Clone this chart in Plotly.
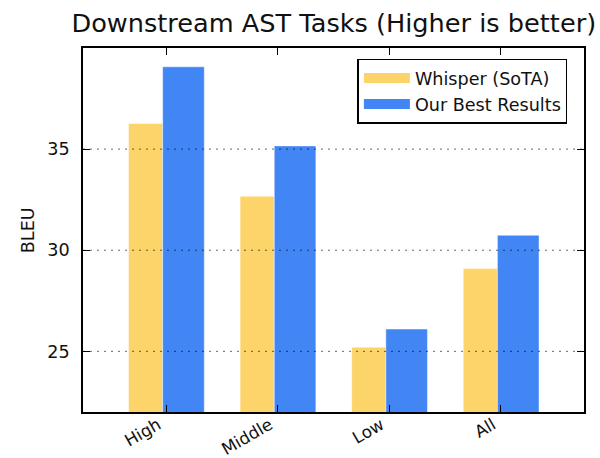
import plotly.graph_objects as go

categories = ["High", "Middle", "Low", "All"]
whisper = [36.27, 32.67, 25.2, 29.09]
ours = [39.07, 35.16, 26.1, 30.74]
series_names = ["Whisper (SoTA)", "Our Best Results"]
y_ticks = [25, 30, 35]

YELLOW = "#FCD469"
BLUE = "#4285F4"
FONT = "DejaVu Sans"

fig = go.Figure()
fig.add_trace(go.Bar(
    x=categories, y=whisper, name=series_names[0], showlegend=False,
    offset=-0.337, width=0.306,
    marker=dict(color=YELLOW, line=dict(color="rgba(255,255,255,0.45)", width=1)),
))
fig.add_trace(go.Bar(
    x=categories, y=ours, name=series_names[1], showlegend=False,
    offset=-0.031, width=0.373,
    marker=dict(color=BLUE, line=dict(color="rgba(255,255,255,0.45)", width=1)),
))
# legend entries (patch-like swatches)
for nm, col in zip(series_names, [YELLOW, BLUE]):
    fig.add_trace(go.Scatter(
        x=[None], y=[None], mode="lines", name=nm,
        line=dict(color=col, width=12),
    ))

# dotted grid drawn over the bars (matplotlib classic style)
for v in y_ticks:
    fig.add_shape(type="line", xref="paper", x0=0, x1=1, yref="y", y0=v, y1=v,
                  line=dict(color="rgba(0,0,0,0.6)", width=1, dash="2px,5px"),
                  layer="above")

fig.update_layout(
    width=600, height=458,
    margin=dict(l=83, r=16, t=48, b=46, autoexpand=False),
    paper_bgcolor="white", plot_bgcolor="white",
    barmode="overlay",
    font=dict(family=FONT, size=17.6, color="#111"),
    title=dict(text="Downstream AST Tasks (Higher is better)",
               x=(83.3 + 584.3) / 2 / 600, xanchor="center",
               yref="container", y=1 - 23.5 / 458, yanchor="middle",
               font=dict(family=FONT, size=25.6, color="#111")),
    legend=dict(x=(357.7 - 83.3) / 501, xanchor="left", y=0.971, yanchor="top",
                bordercolor="black", borderwidth=1.5, bgcolor="white",
                font=dict(family=FONT, size=17.6, color="#111"),
                itemwidth=46, tracegroupgap=0),
    xaxis=dict(range=[-0.745, 3.745], tickangle=-30, automargin=False,
               ticks="inside", ticklen=7, tickwidth=1, tickcolor="black",
               mirror="ticks", showline=True, linecolor="black", linewidth=1.5,
               showgrid=False, zeroline=False, ticklabelshift=-8,
               ticklabelstandoff=-5, tickfont=dict(size=16.8)),
    yaxis=dict(range=[22, 40], tickvals=y_ticks, automargin=False,
               ticks="inside", ticklen=7, tickwidth=1, tickcolor="black",
               mirror="ticks", showline=True, linecolor="black", linewidth=1.5,
               showgrid=False, zeroline=False, ticklabelstandoff=8),
    annotations=[dict(text="BLEU", textangle=-90, xref="paper", yref="paper",
                      x=(28.5 - 83.3) / 501, y=0.5, xanchor="center", yanchor="middle",
                      showarrow=False, font=dict(family=FONT, size=17.6, color="#111"))],
)

fig.write_html("out.html", config={"displayModeBar": False},
               post_script="document.body.style.margin='0';document.body.style.overflow='hidden';")
